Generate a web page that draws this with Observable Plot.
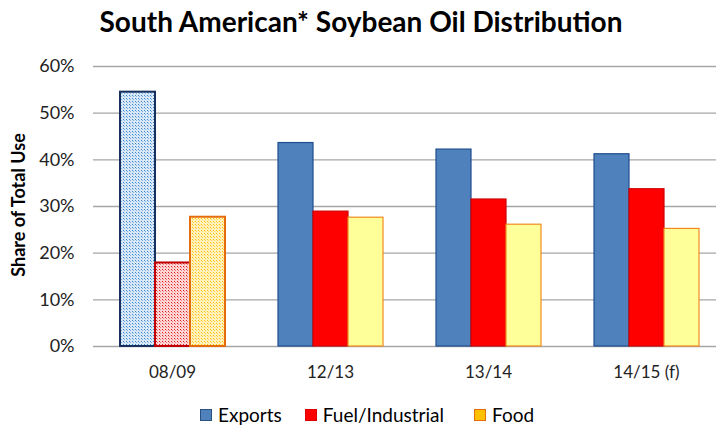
<!DOCTYPE html>
<html>
<head>
<meta charset="utf-8">
<script src="https://cdn.jsdelivr.net/npm/d3@7"></script>
<script src="https://cdn.jsdelivr.net/npm/@observablehq/plot@0.6"></script>
<style>
  body { margin: 0; background: #fff; font-family: Lato, "Liberation Sans", Arial, sans-serif; }
  #wrap { position: relative; width: 716px; height: 426px; overflow: hidden; }
  #title { position: absolute; top: 4px; left: 0; width: 716px; text-align: center; font-weight: bold; font-size: 28px; color: #000; padding-left: 6px; box-sizing: border-box; }
  #chart { position: absolute; top: 50px; left: 0; }
  #ylab { position: absolute; left: 18px; top: 205px; transform: translate(-50%, -50%) rotate(-90deg); font-weight: bold; font-size: 18px; white-space: nowrap; color: #000; }
  #legend { position: absolute; top: 403px; left: 200px; display: flex; align-items: center; font-size: 19px; color: #000; }
  .item { display: flex; align-items: center; margin-right: 23px; }
  .item:nth-child(2) { margin-right: 30px; }
  .sw { width: 12px; height: 12px; margin-right: 6px; box-sizing: border-box; border: 1px solid; }
</style>
</head>
<body>
<svg width="0" height="0" style="position:absolute">
  <defs>
    <pattern id="patExports" patternUnits="userSpaceOnUse" width="3" height="3">
      <rect width="3" height="3" fill="#d9e8f6"></rect>
      <rect x="0" y="0" width="1" height="1" fill="#3f86cf"></rect>
      <rect x="1" y="1" width="1" height="1" fill="#7fb2e3"></rect>
    </pattern>
    <pattern id="patFuel" patternUnits="userSpaceOnUse" width="3" height="3">
      <rect width="3" height="3" fill="#ffd6d6"></rect>
      <rect x="0" y="0" width="1" height="1" fill="#e02020"></rect>
      <rect x="1" y="1" width="1" height="1" fill="#f08080"></rect>
    </pattern>
    <pattern id="patFood" patternUnits="userSpaceOnUse" width="3" height="3">
      <rect width="3" height="3" fill="#fff2bf"></rect>
      <rect x="0" y="0" width="1" height="1" fill="#ffc000"></rect>
      <rect x="1" y="1" width="1" height="1" fill="#ffd54d"></rect>
    </pattern>
  </defs>
</svg>
<div id="wrap">
  <div id="title">South American* Soybean Oil Distribution</div>
  <div id="chart"></div>
  <div id="ylab">Share of Total Use</div>
  <div id="legend"></div>
</div>
<script>
const categories = ["08/09", "12/13", "13/14", "14/15 (f)"];
const series = ["Exports", "Fuel/Industrial", "Food"];
const exportsVals = [0.545, 0.436, 0.422, 0.412];
const fuelVals = [0.179, 0.289, 0.315, 0.337];
const foodVals = [0.277, 0.276, 0.261, 0.252];
const yTicks = [0, 0.1, 0.2, 0.3, 0.4, 0.5, 0.6];

const solidFill = {"Exports": "#4f81bd", "Fuel/Industrial": "#ff0000", "Food": "#ffff99"};
const solidStroke = {"Exports": "#1f4e8c", "Fuel/Industrial": "#d00000", "Food": "#f08a1e"};
const patFill = {"Exports": "url(#patExports)", "Fuel/Industrial": "url(#patFuel)", "Food": "url(#patFood)"};
const patStroke = {"Exports": "#17305e", "Fuel/Industrial": "#c00000", "Food": "#e46c0a"};
const legendFill = {"Exports": "#4f81bd", "Fuel/Industrial": "#ff0000", "Food": "#ffc000"};
const legendStroke = {"Exports": "#2a5080", "Fuel/Industrial": "#e00000", "Food": "#e46c0a"};

const valsBySeries = {"Exports": exportsVals, "Fuel/Industrial": fuelVals, "Food": foodVals};
const data = [];
categories.forEach((c, i) => series.forEach(s => data.push({category: c, series: s, value: valsBySeries[s][i]})));

const patterned = data.filter(d => d.category === categories[0]);
const solid = data.filter(d => d.category !== categories[0]);

const chart = Plot.plot({
  width: 716,
  height: 350,
  marginTop: 16,
  marginBottom: 54,
  marginLeft: 93,
  marginRight: -9,
  style: {fontFamily: "Lato, Liberation Sans, Arial, sans-serif", color: "#000", background: "transparent"},
  fx: {domain: categories, padding: 0},
  x: {domain: series, paddingInner: 0, paddingOuter: 0.757, axis: null},
  y: {domain: [0, 0.6]},
  color: {type: "identity"},
  marks: [
    Plot.gridY(yTicks, {stroke: "#a6a6a6", strokeOpacity: 1, strokeWidth: 1.3}),
    Plot.barY(solid, {fx: "category", x: "series", y: "value", fill: d => solidFill[d.series], stroke: d => solidStroke[d.series], strokeWidth: 1.2, inset: 0}),
    Plot.barY(patterned, {fx: "category", x: "series", y: "value", fill: d => patFill[d.series], stroke: d => patStroke[d.series], strokeWidth: 2, inset: 0}),
    Plot.axisY({ticks: yTicks, tickFormat: d3.format(".0%"), tickSize: 0, tickPadding: 19, fontSize: 18, label: null, line: true, stroke: "#8c8c8c", fill: "#222"}),
    Plot.axisFx({anchor: "bottom", tickSize: 0, tickPadding: 19, fontSize: 17, label: null, fill: "#222"})
  ]
});
document.getElementById("chart").appendChild(chart);

const legend = document.getElementById("legend");
series.forEach(s => {
  const it = document.createElement("div");
  it.className = "item";
  const sw = document.createElement("div");
  sw.className = "sw";
  sw.style.background = legendFill[s];
  sw.style.borderColor = legendStroke[s];
  const t = document.createElement("span");
  t.textContent = s;
  it.appendChild(sw); it.appendChild(t);
  legend.appendChild(it);
});
</script>
</body>
</html>
